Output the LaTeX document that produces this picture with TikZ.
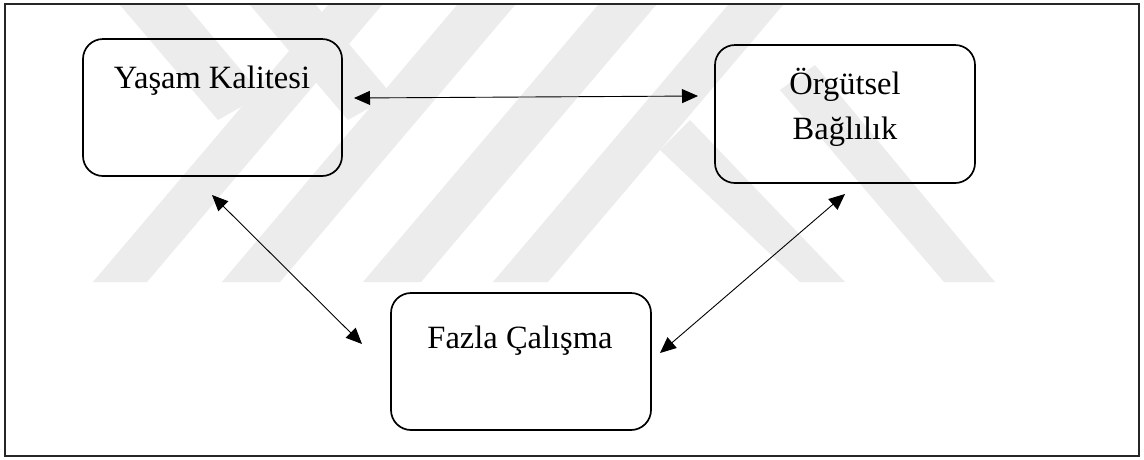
\documentclass[tikz,border=0pt]{standalone}
\usepackage{fontspec}
\setmainfont{Liberation Serif}
\usetikzlibrary{arrows.meta}
\definecolor{wm}{RGB}{236,236,236}
\tikzset{
  box/.style={draw=black, line width=1.7pt, rounded corners=20pt},
  lbl/.style={anchor=base, inner sep=0pt, font=\fontsize{32.5}{39}\selectfont},
  link/.style={line width=0.9pt, {Triangle[length=16pt,width=14pt]}-{Triangle[length=16pt,width=14pt]}},
  frame/.style={draw=black!85, line width=2pt},
  band/.style={fill=wm, draw=none}
}
\begin{document}
\begin{tikzpicture}[x=1pt, y=-1pt]
\useasboundingbox (0,0) rectangle (1144,459);
\fill[white] (0,0) rectangle (1144,459);
% watermark
\fill[band] (93,282) -- (147,282) -- (382,5) -- (328,5) -- cycle;
\fill[band] (222,282) -- (280,282) -- (515,5) -- (457,5) -- cycle;
\fill[band] (363,282) -- (421,282) -- (656,5) -- (598,5) -- cycle;
\fill[band] (493,282) -- (548,282) -- (783,5) -- (728,5) -- cycle;
\fill[band] (120,5) -- (186,5) -- (262,95) -- (218,120) -- cycle;
\fill[band] (250,5) -- (316,5) -- (392,95) -- (348,120) -- cycle;
\fill[band] (660,150) -- (690,120) -- (845,282) -- (800,282) -- cycle;
\fill[band] (780,90) -- (815,65) -- (995,282) -- (944,282) -- cycle;
% frame
\draw[frame] (5,4) rectangle (1139,456);
% boxes
\node[box, minimum width=259pt, minimum height=137pt, inner sep=0pt] (yk) at (212.5,107.5) {};
\node[box, minimum width=260pt, minimum height=138pt, inner sep=0pt] (ob) at (845,114) {};
\node[box, minimum width=260pt, minimum height=137pt, inner sep=0pt] (fc) at (521,361.5) {};
% labels
\node[lbl] (t1) at (212,88) {Yaşam Kalitesi};
\node[lbl] (t2) at (845,94) {Örgütsel};
\node[lbl] (t3) at (845,139) {Bağlılık};
\node[lbl] (t4) at (520,348) {Fazla Çalışma};
% arrow ends
\coordinate (a1) at (354,98);
\coordinate (a2) at (698,96);
\coordinate (b1) at (212,195);
\coordinate (b2) at (362,344);
\coordinate (c1) at (845,194);
\coordinate (c2) at (660,353);
\draw[link] (a1) -- (a2);
\draw[link] (b1) -- (b2);
\draw[link] (c2) -- (c1);
\end{tikzpicture}
\end{document}
